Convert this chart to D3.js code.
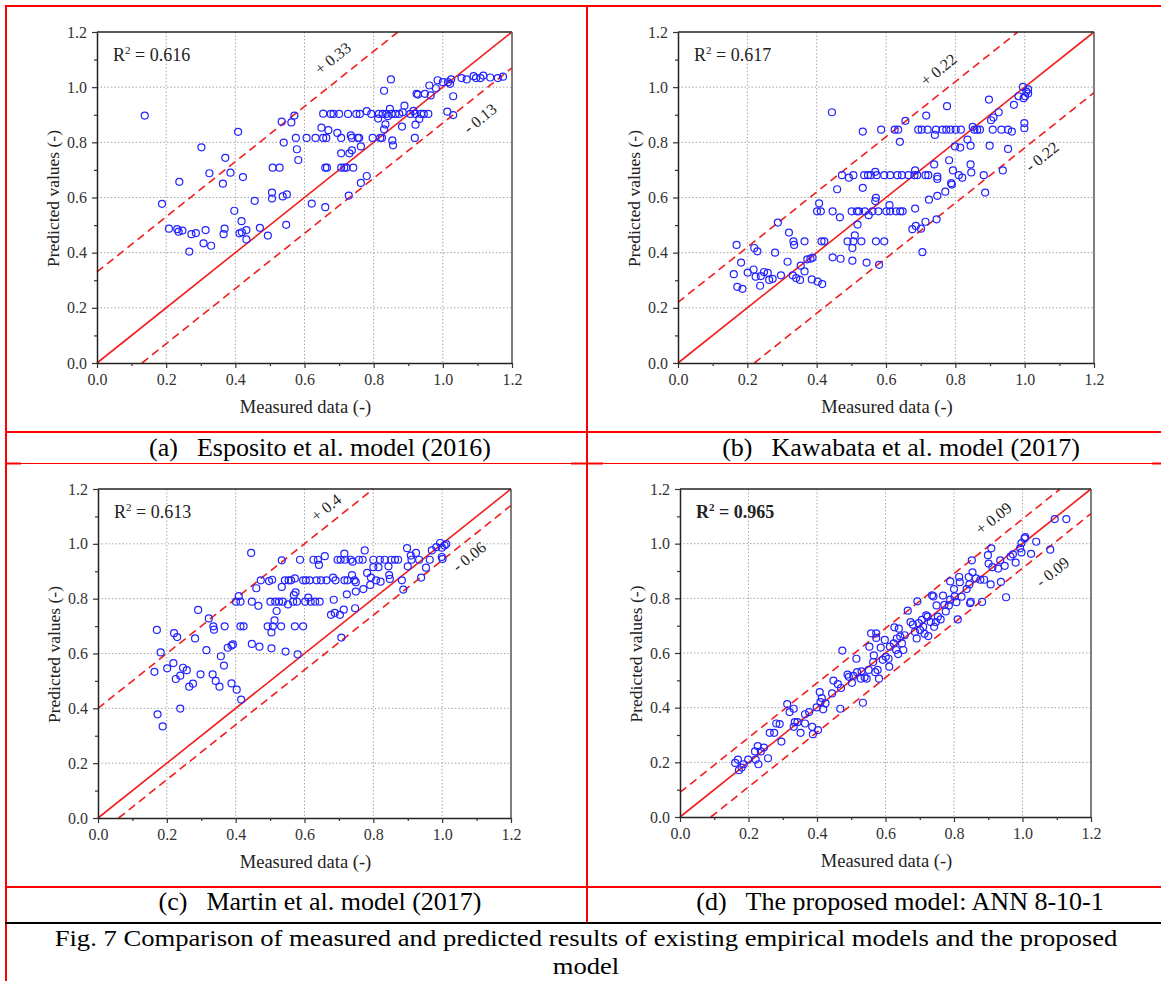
<!DOCTYPE html>
<html>
<head>
<meta charset="utf-8">
<script src="https://cdn.jsdelivr.net/npm/d3@7"></script>
<style>
  body { margin: 0; background: #fff; }
  svg { display: block; font-family: "Liberation Serif", "Times New Roman", serif; }
</style>
</head>
<body>
<svg id="fig" width="1161" height="981"></svg>
<script>
// measured / predicted pairs
var esposito = [
  [0.138,0.897],[0.188,0.577],[0.208,0.487],[0.232,0.485],[0.236,0.476],[0.247,0.480],[0.238,0.657],[0.267,0.404],
  [0.273,0.467],[0.286,0.471],[0.302,0.782],[0.308,0.434],[0.314,0.482],[0.325,0.688],[0.330,0.425],[0.364,0.650],
  [0.366,0.467],[0.371,0.744],[0.369,0.487],[0.386,0.690],[0.397,0.552],[0.408,0.838],[0.412,0.470],[0.418,0.514],
  [0.422,0.674],[0.419,0.474],[0.432,0.482],[0.432,0.448],[0.456,0.588],[0.471,0.490],[0.494,0.462],[0.506,0.618],
  [0.506,0.596],[0.508,0.708],[0.528,0.708],[0.534,0.875],[0.537,0.604],[0.540,0.799],[0.547,0.501],[0.549,0.611],
  [0.562,0.872],[0.571,0.897],[0.575,0.816],[0.578,0.775],[0.582,0.736],[0.606,0.816],[0.621,0.578],[0.632,0.816],
  [0.649,0.853],[0.654,0.904],[0.654,0.816],[0.660,0.708],[0.663,0.816],[0.665,0.708],[0.660,0.565],[0.669,0.844],
  [0.676,0.903],[0.684,0.903],[0.695,0.834],[0.700,0.903],[0.706,0.816],[0.706,0.760],[0.706,0.708],[0.715,0.708],
  [0.721,0.708],[0.726,0.903],[0.728,0.607],[0.730,0.760],[0.734,0.825],[0.737,0.771],[0.737,0.816],[0.741,0.708],
  [0.750,0.903],[0.754,0.816],[0.758,0.816],[0.760,0.903],[0.763,0.785],[0.763,0.653],[0.780,0.913],[0.780,0.678],
  [0.793,0.903],[0.797,0.816],[0.813,0.886],[0.815,0.903],[0.819,0.816],[0.824,0.816],[0.826,0.903],[0.830,0.987],
  [0.830,0.847],[0.834,0.865],[0.837,0.903],[0.841,0.895],[0.847,0.921],[0.850,1.028],[0.852,0.903],[0.854,0.807],
  [0.856,0.789],[0.863,0.903],[0.874,0.903],[0.882,0.857],[0.884,0.909],[0.889,0.933],[0.906,0.903],[0.915,0.914],
  [0.919,0.816],[0.921,0.864],[0.921,0.903],[0.924,0.976],[0.928,0.973],[0.932,0.885],[0.937,0.903],[0.945,0.903],
  [0.948,0.976],[0.958,0.903],[0.961,1.006],[0.965,0.970],[0.980,0.996],[0.985,1.025],[1.000,1.018],[1.013,0.911],
  [1.015,1.018],[1.021,1.012],[1.024,1.028],[1.030,0.967],[1.030,0.899],[1.054,1.033],[1.069,1.028],[1.089,1.040],
  [1.096,1.033],[1.109,1.033],[1.117,1.042],[1.137,1.035],[1.159,1.033],[1.174,1.038]
];
var kawabata = [
  [0.161,0.322],[0.169,0.428],[0.171,0.276],[0.182,0.364],[0.186,0.269],[0.201,0.328],[0.218,0.339],[0.220,0.417],
  [0.224,0.313],[0.229,0.405],[0.237,0.280],[0.239,0.315],[0.248,0.330],[0.259,0.327],[0.263,0.301],[0.273,0.305],
  [0.280,0.400],[0.288,0.509],[0.297,0.318],[0.316,0.367],[0.320,0.473],[0.331,0.318],[0.333,0.441],[0.335,0.428],
  [0.341,0.308],[0.352,0.301],[0.354,0.353],[0.365,0.441],[0.365,0.332],[0.373,0.376],[0.382,0.378],[0.388,0.382],
  [0.386,0.303],[0.401,0.550],[0.403,0.295],[0.407,0.579],[0.412,0.550],[0.414,0.441],[0.416,0.286],[0.422,0.441],
  [0.444,0.909],[0.446,0.550],[0.446,0.383],[0.459,0.630],[0.467,0.528],[0.469,0.378],[0.473,0.681],[0.489,0.441],
  [0.493,0.672],[0.501,0.550],[0.503,0.417],[0.503,0.371],[0.506,0.681],[0.506,0.441],[0.510,0.463],[0.516,0.550],
  [0.518,0.502],[0.522,0.550],[0.529,0.441],[0.533,0.839],[0.533,0.635],[0.537,0.681],[0.539,0.550],[0.544,0.364],
  [0.548,0.681],[0.550,0.536],[0.556,0.681],[0.561,0.550],[0.569,0.693],[0.569,0.587],[0.571,0.599],[0.571,0.441],
  [0.573,0.681],[0.578,0.550],[0.580,0.356],[0.586,0.846],[0.595,0.681],[0.595,0.441],[0.601,0.550],[0.610,0.572],
  [0.612,0.681],[0.612,0.550],[0.625,0.846],[0.629,0.550],[0.633,0.681],[0.635,0.846],[0.640,0.802],[0.641,0.550],
  [0.646,0.681],[0.648,0.550],[0.656,0.878],[0.665,0.681],[0.676,0.485],[0.682,0.681],[0.684,0.698],[0.684,0.560],
  [0.686,0.497],[0.690,0.681],[0.693,0.846],[0.701,0.487],[0.703,0.846],[0.705,0.402],[0.714,0.512],[0.714,0.681],
  [0.716,0.897],[0.720,0.846],[0.722,0.681],[0.724,0.592],[0.739,0.720],[0.741,0.827],[0.744,0.846],[0.746,0.521],
  [0.748,0.667],[0.748,0.606],[0.748,0.676],[0.763,0.846],[0.771,0.621],[0.774,0.846],[0.776,0.931],[0.782,0.735],
  [0.786,0.846],[0.788,0.652],[0.790,0.647],[0.793,0.698],[0.799,0.785],[0.801,0.846],[0.810,0.681],[0.814,0.781],
  [0.816,0.846],[0.820,0.672],[0.835,0.810],[0.844,0.788],[0.844,0.720],[0.846,0.691],[0.850,0.856],[0.855,0.846],
  [0.863,0.846],[0.871,0.846],[0.882,0.681],[0.886,0.618],[0.897,0.955],[0.899,0.788],[0.903,0.880],[0.908,0.846],
  [0.910,0.890],[0.925,0.909],[0.933,0.846],[0.937,0.698],[0.952,0.846],[0.952,0.776],[0.963,0.839],[0.969,0.936],
  [0.982,0.967],[0.995,1.001],[0.997,0.960],[0.999,0.851],[0.999,0.870],[1.005,0.984],[1.010,0.992],[1.010,0.977],
  [1.001,0.967]
];
var martin = [
  [0.164,0.533],[0.171,0.686],[0.173,0.378],[0.182,0.604],[0.188,0.334],[0.201,0.546],[0.219,0.565],[0.221,0.674],
  [0.230,0.660],[0.226,0.507],[0.239,0.519],[0.239,0.399],[0.247,0.548],[0.258,0.539],[0.265,0.479],[0.276,0.490],
  [0.282,0.655],[0.291,0.759],[0.298,0.524],[0.315,0.612],[0.322,0.728],[0.335,0.699],[0.337,0.687],[0.333,0.524],
  [0.342,0.500],[0.353,0.479],[0.357,0.590],[0.366,0.556],[0.368,0.699],[0.377,0.621],[0.388,0.629],[0.392,0.633],
  [0.388,0.491],[0.401,0.789],[0.403,0.468],[0.409,0.809],[0.414,0.789],[0.414,0.699],[0.416,0.432],[0.423,0.699],
  [0.445,0.967],[0.447,0.789],[0.447,0.635],[0.460,0.838],[0.466,0.774],[0.469,0.625],[0.473,0.867],[0.493,0.699],
  [0.497,0.864],[0.501,0.789],[0.504,0.619],[0.504,0.677],[0.506,0.869],[0.508,0.699],[0.513,0.721],[0.515,0.789],
  [0.519,0.755],[0.526,0.789],[0.532,0.699],[0.534,0.940],[0.534,0.843],[0.537,0.789],[0.543,0.867],[0.545,0.607],
  [0.552,0.779],[0.554,0.867],[0.561,0.867],[0.567,0.789],[0.569,0.813],[0.572,0.874],[0.574,0.823],[0.572,0.699],
  [0.578,0.789],[0.580,0.597],[0.587,0.942],[0.596,0.699],[0.596,0.867],[0.602,0.789],[0.604,0.867],[0.611,0.804],
  [0.615,0.867],[0.618,0.789],[0.626,0.942],[0.631,0.789],[0.635,0.867],[0.639,0.942],[0.642,0.923],[0.644,0.789],
  [0.648,0.867],[0.659,0.955],[0.664,0.867],[0.677,0.741],[0.683,0.877],[0.685,0.796],[0.688,0.748],[0.690,0.867],
  [0.696,0.942],[0.703,0.741],[0.705,0.942],[0.707,0.658],[0.714,0.760],[0.716,0.964],[0.716,0.867],[0.718,0.942],
  [0.723,0.816],[0.725,0.867],[0.734,0.942],[0.738,0.886],[0.740,0.935],[0.745,0.867],[0.747,0.765],[0.749,0.826],
  [0.749,0.860],[0.758,0.942],[0.769,0.942],[0.771,0.835],[0.775,0.976],[0.782,0.894],[0.791,0.850],[0.793,0.877],
  [0.800,0.942],[0.800,0.915],[0.808,0.867],[0.815,0.915],[0.819,0.942],[0.821,0.862],[0.833,0.942],[0.844,0.918],
  [0.846,0.886],[0.848,0.872],[0.852,0.942],[0.863,0.942],[0.872,0.942],[0.883,0.867],[0.887,0.833],[0.898,0.984],
  [0.900,0.918],[0.909,0.957],[0.911,0.942],[0.924,0.967],[0.933,0.942],[0.939,0.877],[0.953,0.913],[0.964,0.942],
  [0.970,0.976],[0.983,0.988],[0.994,1.003],[0.999,0.986],[0.999,0.952],[1.001,0.945],[1.007,0.994],[1.012,0.999]
];
var ann = [
  [0.161,0.198],[0.169,0.210],[0.172,0.171],[0.180,0.181],[0.186,0.193],[0.199,0.210],[0.219,0.240],[0.221,0.210],
  [0.227,0.259],[0.229,0.193],[0.236,0.240],[0.245,0.254],[0.257,0.215],[0.262,0.308],[0.275,0.308],[0.281,0.342],
  [0.291,0.340],[0.296,0.276],[0.313,0.413],[0.320,0.384],[0.332,0.396],[0.332,0.330],[0.335,0.347],[0.343,0.347],
  [0.352,0.308],[0.365,0.376],[0.365,0.342],[0.377,0.384],[0.386,0.330],[0.388,0.303],[0.399,0.401],[0.403,0.318],
  [0.408,0.457],[0.410,0.420],[0.414,0.435],[0.418,0.394],[0.425,0.416],[0.444,0.452],[0.448,0.499],[0.461,0.486],
  [0.468,0.396],[0.470,0.472],[0.474,0.609],[0.489,0.521],[0.493,0.513],[0.502,0.491],[0.506,0.516],[0.515,0.579],
  [0.517,0.530],[0.528,0.506],[0.530,0.533],[0.534,0.418],[0.539,0.511],[0.545,0.506],[0.551,0.538],[0.553,0.623],
  [0.558,0.672],[0.564,0.567],[0.566,0.591],[0.570,0.530],[0.573,0.672],[0.573,0.655],[0.577,0.538],[0.581,0.506],
  [0.586,0.620],[0.592,0.575],[0.598,0.648],[0.601,0.586],[0.609,0.579],[0.611,0.550],[0.613,0.623],[0.624,0.635],
  [0.626,0.694],[0.631,0.611],[0.633,0.653],[0.637,0.596],[0.639,0.689],[0.643,0.660],[0.648,0.635],[0.652,0.611],
  [0.656,0.665],[0.665,0.755],[0.673,0.713],[0.680,0.704],[0.686,0.677],[0.691,0.653],[0.693,0.789],[0.697,0.709],
  [0.701,0.684],[0.706,0.721],[0.710,0.696],[0.714,0.670],[0.719,0.738],[0.723,0.733],[0.725,0.662],[0.732,0.713],
  [0.736,0.811],[0.740,0.807],[0.742,0.696],[0.747,0.713],[0.749,0.774],[0.753,0.733],[0.761,0.723],[0.768,0.810],
  [0.772,0.776],[0.776,0.752],[0.785,0.774],[0.789,0.862],[0.789,0.795],[0.800,0.834],[0.802,0.807],[0.807,0.786],
  [0.811,0.723],[0.815,0.878],[0.817,0.859],[0.822,0.806],[0.837,0.834],[0.843,0.878],[0.845,0.851],[0.847,0.782],
  [0.849,0.787],[0.852,0.939],[0.854,0.895],[0.864,0.873],[0.877,0.868],[0.882,0.787],[0.888,0.868],[0.899,0.958],
  [0.901,0.927],[0.907,0.851],[0.909,0.983],[0.912,0.914],[0.929,0.909],[0.935,0.939],[0.937,0.860],[0.948,0.919],
  [0.952,0.804],[0.965,0.953],[0.972,0.961],[0.980,0.931],[0.993,0.983],[0.997,1.002],[0.997,0.968],[1.006,1.019],
  [1.008,1.024],[1.025,0.963],[1.040,1.007],[1.081,0.978],[1.094,1.090],[1.128,1.090]
];

var majorTicks = [0, 0.2, 0.4, 0.6, 0.8, 1.0, 1.2];
var minorTicks = [0.1, 0.3, 0.5, 0.7, 0.9, 1.1];
var gridTicks = [0.2, 0.4, 0.6, 0.8, 1.0];
var figCaption = ['Fig. 7 Comparison of measured and predicted results of existing empirical models and the proposed', 'model'];

var panels = [
  {data: esposito, r2: '0.616', bold: false, up: 0.33, lo: 0.13, upLab: [0.685, 1.100], loLab: [1.111, 0.882],
   tag: '(a)', caption: 'Esposito et al. model (2016)', x0: 97, x1: 512, y0: 32, y1: 363, capX: 320, capY: 456},
  {data: kawabata, r2: '0.617', bold: false, up: 0.22, lo: 0.22, upLab: [0.755, 1.058], loLab: [1.053, 0.743],
   tag: '(b)', caption: 'Kawabata et al. model (2017)', x0: 678, x1: 1094, y0: 32, y1: 363, capX: 901, capY: 456},
  {data: martin, r2: '0.613', bold: false, up: 0.4, lo: 0.06, upLab: [0.666, 1.127], loLab: [1.082, 0.948],
   tag: '(c)', caption: 'Martin et al. model (2017)', x0: 98, x1: 511, y0: 489, y1: 818, capX: 320, capY: 910},
  {data: ann, r2: '0.965', bold: true, up: 0.09, lo: 0.09, upLab: [0.919, 1.088], loLab: [1.091, 0.892],
   tag: '(d)', caption: 'The proposed model: ANN 8-10-1', x0: 680, x1: 1091, y0: 489, y1: 817, capX: 900, capY: 910}
];

var red = '#f31d1d';
var blue = '#2323ff';
var svg = d3.select('#fig');

// table borders
function rule(x1, y1, x2, y2, w, c) {
  svg.append('line').attr('x1', x1).attr('y1', y1).attr('x2', x2).attr('y2', y2)
    .attr('stroke', c).attr('stroke-width', w);
}
rule(5, 6, 1161, 6, 2, 'red');
rule(6, 5, 6, 981, 2, 'red');
rule(587, 5, 587, 923, 2, 'red');
rule(5, 432, 1161, 432, 2, 'red');
rule(5, 463.5, 1161, 463.5, 1.2, 'red');
rule(5, 463.5, 21, 463.5, 2, 'red');
rule(571, 463.5, 603, 463.5, 2, 'red');
rule(1152, 463.5, 1161, 463.5, 2, 'red');
rule(5, 887, 1161, 887, 2, 'red');
rule(5, 923, 1161, 923, 2, '#000');

panels.forEach(function(p) {
  var x = d3.scaleLinear().domain([0, 1.2]).range([p.x0, p.x1]);
  var y = d3.scaleLinear().domain([0, 1.2]).range([p.y1, p.y0]);
  var g = svg.append('g');

  // grid
  g.selectAll('.gx').data(gridTicks).enter().append('line')
    .attr('x1', function(d) { return x(d); }).attr('x2', function(d) { return x(d); })
    .attr('y1', p.y0).attr('y2', p.y1)
    .attr('stroke', '#a8a8a8').attr('stroke-width', 1).attr('stroke-dasharray', '1.5,2');
  g.selectAll('.gy').data(gridTicks).enter().append('line')
    .attr('y1', function(d) { return y(d); }).attr('y2', function(d) { return y(d); })
    .attr('x1', p.x0).attr('x2', p.x1)
    .attr('stroke', '#a8a8a8').attr('stroke-width', 1).attr('stroke-dasharray', '1.5,2');

  // reference lines
  var ref = [
    {a: [0, 0], b: [1.2, 1.2], dash: null},
    {a: [0, p.up], b: [1.2 - p.up, 1.2], dash: '8,5'},
    {a: [p.lo, 0], b: [1.2, 1.2 - p.lo], dash: '8,5'}
  ];
  ref.forEach(function(r) {
    g.append('line')
      .attr('x1', x(r.a[0])).attr('y1', y(r.a[1]))
      .attr('x2', x(r.b[0])).attr('y2', y(r.b[1]))
      .attr('stroke', red).attr('stroke-width', 1.6)
      .attr('stroke-dasharray', r.dash);
  });

  var ang = -Math.atan((p.y1 - p.y0) / (p.x1 - p.x0)) * 180 / Math.PI;
  [[p.upLab, '+ ' + p.up], [p.loLab, '- ' + p.lo]].forEach(function(l) {
    var lx = x(l[0][0]), ly = y(l[0][1]);
    g.append('text').attr('x', lx).attr('y', ly)
      .attr('transform', 'rotate(' + ang + ',' + lx + ',' + ly + ')')
      .attr('text-anchor', 'middle').attr('dominant-baseline', 'middle')
      .attr('font-size', 16).attr('fill', '#222').text(l[1]);
  });

  // points
  g.selectAll('circle').data(p.data).enter().append('circle')
    .attr('cx', function(d) { return x(d[0]); })
    .attr('cy', function(d) { return y(d[1]); })
    .attr('r', 3.5)
    .attr('fill', 'none').attr('stroke', blue).attr('stroke-width', 1.2);

  // axes
  g.append('g').attr('transform', 'translate(0,' + p.y1 + ')')
    .call(d3.axisBottom(x).tickValues(majorTicks).tickFormat(d3.format('.1f')).tickSize(5).tickSizeOuter(0).tickPadding(6));
  g.append('g').attr('transform', 'translate(0,' + p.y1 + ')')
    .call(d3.axisBottom(x).tickValues(minorTicks).tickFormat('').tickSize(3)).select('.domain').remove();
  g.append('g').attr('transform', 'translate(' + p.x0 + ',0)')
    .call(d3.axisLeft(y).tickValues(majorTicks).tickFormat(d3.format('.1f')).tickSize(5).tickSizeOuter(0).tickPadding(5));
  g.append('g').attr('transform', 'translate(' + p.x0 + ',0)')
    .call(d3.axisLeft(y).tickValues(minorTicks).tickFormat('').tickSize(3)).select('.domain').remove();
  g.selectAll('.tick line').attr('stroke', '#333').attr('stroke-width', 1.2);
  g.selectAll('.domain').attr('stroke', '#222').attr('stroke-width', 1.5);
  g.selectAll('.tick text').attr('font-family', '"Liberation Serif", serif')
    .attr('font-size', 16).attr('fill', '#333');

  // frame top / right
  g.append('line').attr('x1', p.x0).attr('x2', p.x1).attr('y1', p.y0).attr('y2', p.y0)
    .attr('stroke', '#222').attr('stroke-width', 1.5);
  g.append('line').attr('x1', p.x1).attr('x2', p.x1).attr('y1', p.y0).attr('y2', p.y1)
    .attr('stroke', '#555').attr('stroke-width', 1.5);

  // titles
  g.append('text').attr('x', (p.x0 + p.x1) / 2 + 1).attr('y', p.y1 + 50)
    .attr('text-anchor', 'middle').attr('font-size', 18.5).attr('fill', '#222')
    .text('Measured data (-)');
  var tx = p.x0 - 38, ty = (p.y0 + p.y1) / 2 + 1;
  g.append('text').attr('x', tx).attr('y', ty)
    .attr('transform', 'rotate(-90,' + tx + ',' + ty + ')')
    .attr('text-anchor', 'middle').attr('font-size', 17.5).attr('fill', '#222')
    .text('Predicted values (-)');

  var r2 = g.append('text').attr('x', p.x0 + 16).attr('y', p.y0 + 29)
    .attr('font-size', 18).attr('fill', '#222')
    .attr('font-weight', p.bold ? 'bold' : 'normal');
  r2.append('tspan').text('R');
  r2.append('tspan').attr('font-size', 11).attr('dy', -7).text('2');
  r2.append('tspan').attr('dy', 7).text(' = ' + p.r2);

  // caption
  var cap = svg.append('text').attr('x', p.capX).attr('y', p.capY)
    .attr('text-anchor', 'middle').attr('font-size', 26).attr('fill', '#000');
  cap.append('tspan').text(p.tag);
  cap.append('tspan').attr('dx', 19).text(p.caption);
});

// figure caption, slightly stretched horizontally like the scanned original
svg.selectAll('.figcap').data(figCaption).enter().append('text')
  .attr('x', 586).attr('y', function(d, i) { return i ? 974 : 946; })
  .attr('transform', 'translate(586,0) scale(1.11,1) translate(-586,0)')
  .attr('text-anchor', 'middle').attr('font-size', 24).attr('fill', '#000')
  .text(function(d) { return d; });
</script>
</body>
</html>
